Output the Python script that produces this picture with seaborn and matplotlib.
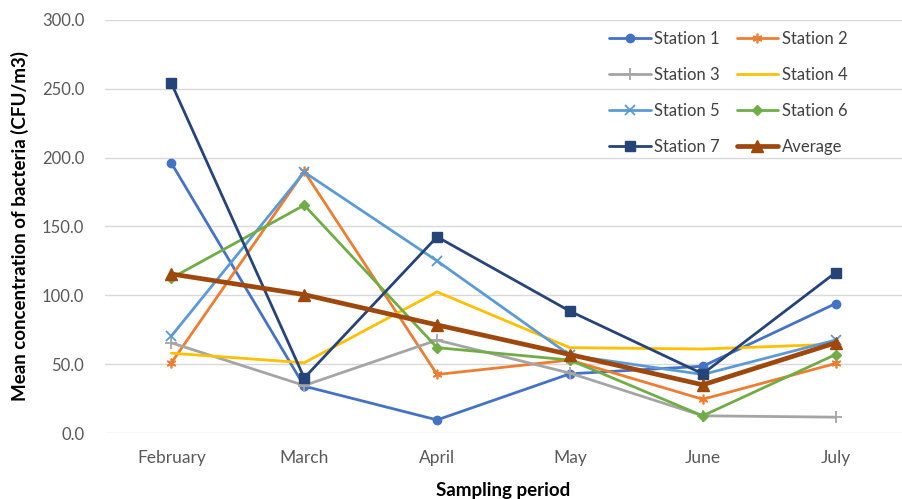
import matplotlib
matplotlib.use("Agg")
import matplotlib.pyplot as plt
import seaborn as sns
import pandas as pd

months = ["February", "March", "April", "May", "June", "July"]
station_1 = [196.0, 34.0, 9.5, 43.0, 48.5, 94.0]
station_2 = [51.0, 190.0, 42.5, 53.0, 24.5, 50.5]
station_3 = [65.5, 34.5, 67.5, 43.5, 12.5, 11.5]
station_4 = [58.0, 51.0, 102.5, 62.0, 61.0, 64.5]
station_5 = [70.5, 189.5, 125.0, 56.5, 42.5, 67.5]
station_6 = [112.5, 165.5, 62.0, 53.0, 12.5, 57.0]
station_7 = [254.0, 40.0, 142.5, 88.5, 43.0, 116.5]
average = [115.5, 100.5, 78.5, 57.0, 35.0, 65.5]

series_names = ["Station 1", "Station 2", "Station 3", "Station 4",
                "Station 5", "Station 6", "Station 7", "Average"]
series_values = [station_1, station_2, station_3, station_4,
                 station_5, station_6, station_7, average]

colors = ["#4472C4", "#ED7D31", "#A5A5A5", "#FFC000",
          "#5B9BD5", "#70AD47", "#264478", "#9E480E"]
markers = ["o", (6, 2, 0), "+", None, "x", "D", "s", "^"]
msizes = [6, 7, 8, 0, 7, 5, 6.5, 8]
mews = [1, 1.2, 1.3, 1, 1.3, 1, 1, 1]
lwidths = [2.0, 2.0, 2.0, 2.0, 2.0, 2.0, 2.0, 3.4]

df = pd.DataFrame({
    "month": [m for _ in series_names for m in months],
    "value": [v for vals in series_values for v in vals],
    "series": [s for s in series_names for _ in months],
})

sns.set_theme(style="white")
plt.rcParams["font.family"] = ["Lato", "DejaVu Sans"]

fig = plt.figure(figsize=(9.03, 4.99), dpi=100)
ax = fig.add_axes([105 / 903, 1 - 433 / 499, 797 / 903, 413 / 499])

for i, name in enumerate(series_names):
    sub = df[df["series"] == name]
    sns.lineplot(data=sub, x="month", y="value", ax=ax, sort=False,
                 color=colors[i], linewidth=lwidths[i],
                 marker=markers[i] if markers[i] is not None else "",
                 markersize=msizes[i], markeredgewidth=mews[i],
                 markeredgecolor=colors[i], label=name, zorder=3 + i)

ax.set_xlim(-0.5, len(months) - 0.5)
ax.set_ylim(0, 300)
ax.set_yticks(range(0, 301, 50))
ax.set_yticklabels([f"{v:.1f}" for v in range(0, 301, 50)])
ax.yaxis.grid(True, color="#D9D9D9", linewidth=1.0)
ax.xaxis.grid(False)
for sp in ax.spines.values():
    sp.set_visible(False)
ax.tick_params(axis="both", colors="#595959", length=0)
ax.tick_params(axis="y", pad=15, labelsize=12)
ax.tick_params(axis="x", pad=12, labelsize=12.5)

ax.set_xlabel("Sampling period", fontsize=13.5, fontweight="bold", color="black", labelpad=12)
ax.set_ylabel("Mean concentration of bacteria (CFU/m3)", fontsize=13.5,
              fontweight="bold", color="black", labelpad=9)

# Row-wise legend ordering for two columns
handles, labels = ax.get_legend_handles_labels()
order = [0, 2, 4, 6, 1, 3, 5, 7]
leg = ax.legend([handles[k] for k in order], [labels[k] for k in order],
                loc="upper right", bbox_to_anchor=(0.95, 1.01), ncol=2,
                frameon=False, fontsize=12, handlelength=2.5,
                columnspacing=1.0, labelspacing=1.2, handletextpad=0.2)
for t in leg.get_texts():
    t.set_color("#404040")

fig.savefig("out.png", dpi=100)
